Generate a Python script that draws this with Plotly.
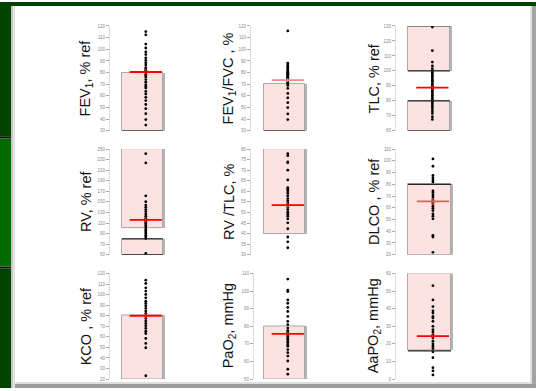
import plotly.graph_objects as go

W, H = 536, 391

# ---- data -------------------------------------------------------------
titles = [
    "FEV<sub>1</sub>, % ref", "FEV<sub>1</sub>/FVC , %", "TLC, % ref",
    "RV, % ref", "RV /TLC, %", "DLCO , % ref",
    "KCO , % ref", "PaO<sub>2</sub>, mmHg", "AaPO<sub>2</sub>, mmHg",
]

fev1 = [115.2, 112.4, 104.5, 101.1, 97.7, 95.5, 92.7, 90.4, 88.4, 86.5, 84.2, 83.0,
        81.9, 80.5, 78.6, 77.2, 76.3, 74.0, 71.8, 69.5, 68.0, 66.7, 63.9, 61.6, 58.8,
        56.0, 52.6, 49.0, 44.7, 39.7, 34.9]
fev1_fvc = [115.8, 88.0, 86.5, 85.2, 84.1, 83.0, 82.2, 81.0, 80.3, 79.4, 78.6, 78.0,
            77.1, 76.4, 75.8, 75.0, 74.1, 73.2, 72.0, 71.1, 70.2, 69.0, 66.4, 62.1,
            58.3, 54.2, 50.0, 44.5, 39.7]
tlc = [129.3, 113.6, 105.9, 103.3, 101.5, 100.2, 99.1, 98.0, 96.8, 95.9, 94.7, 93.6,
       92.8, 91.5, 90.6, 89.7, 88.4, 87.5, 86.3, 85.4, 84.1, 83.2, 82.0, 80.9, 79.7,
       78.6, 77.3, 76.1, 74.8, 73.2, 71.6, 69.4, 67.6]
rv = [241.3, 223.8, 161.5, 150.3, 144.0, 139.7, 135.4, 131.6, 127.3, 123.0, 119.0,
      115.0, 111.7, 108.6, 105.5, 102.3, 99.2, 96.0, 93.0, 90.0, 86.8, 83.6, 80.5, 52.5]
rv_tlc = [77.8, 76.9, 73.9, 73.5, 70.0, 65.4, 61.8, 61.0, 60.2, 59.1, 57.9, 56.6, 55.5,
          54.5, 53.5, 52.4, 51.3, 50.1, 49.2, 48.2, 47.0, 45.1, 42.3, 38.4, 36.1, 33.3]
dlco = [101.6, 95.4, 87.6, 85.6, 83.6, 82.0, 74.4, 73.0, 71.0, 69.3, 67.4, 66.0, 64.6,
        63.2, 61.2, 59.5, 57.6, 54.8, 52.8, 50.6, 36.5, 35.1, 22.0]
kco = [113.7, 110.5, 106.4, 103.3, 100.1, 97.0, 93.8, 91.6, 89.4, 86.9, 84.4, 82.1,
       79.9, 77.4, 74.9, 72.7, 70.5, 68.0, 65.4, 63.2, 58.5, 53.8, 49.7, 23.2]
pao2 = [106.8, 100.6, 99.7, 95.0, 93.1, 90.7, 88.4, 85.6, 82.8, 80.9, 79.0, 77.5, 76.8,
        76.2, 75.1, 74.4, 73.3, 72.5, 71.4, 70.6, 69.5, 68.7, 66.8, 65.0, 63.1, 60.3,
        55.6, 52.8]
aapo2 = [53.1, 45.0, 41.2, 38.8, 37.5, 35.6, 34.7, 32.8, 30.0, 28.1, 26.8, 25.3, 24.4,
         23.4, 21.5, 20.0, 18.7, 17.4, 15.5, 12.2, 6.5, 4.7, 2.4]
series = [fev1, fev1_fvc, tlc, rv, rv_tlc, dlco, kco, pao2, aapo2]

means = [80.5, 73.5, 88.9, 116.0, 53.5, 65.4, 80.0, 75.7, 24.4]
sems = [3.0, 1.5, 1.5, 6.0, 1.5, 3.0, 3.0, 1.5, 1.5]

# shaded ranges (base, top) for each panel
ranges = [
    [(30, 80)], [(30, 70)], [(60, 80), (100, 130)],
    [(50, 80), (100, 250)], [(40, 80)], [(20, 80)],
    [(20, 80)], [(50, 80)], [(16, 60)],
]
# range edges drawn with a dark rule
dark_edges = [[30], [30], [60, 80, 100, 130], [50, 80], [], [80], [], [], [16]]

y_ranges = [(30, 120), (30, 120), (60, 130), (50, 250), (30, 80),
            (20, 110), (20, 120), (50, 110), (0, 60)]
y_dticks = [10, 10, 10, 20, 5, 10, 10, 10, 10]

# ---- layout geometry (pixels) -----------------------------------------
row_px = [(24.3, 130.5), (149, 256), (275, 382)]
col_px = [  # axis line, bar left, bar right
    [(110, 122, 163), (251, 264, 305), (396, 408, 450)],
    [(110, 122, 163), (251, 264, 305), (396, 408, 451)],
    [(110, 122, 163), (254, 264, 305), (396, 408, 451)],
]
title_x = [86, 229, 374]
mean_colors = ["#ff0000", "#f28a8a", "#ff0000", "#ff0000", "#ff0000",
               "#f05a5a", "#ff0000", "#ff0000", "#ff0000"]
DOT_X = 0.08
SHADOW = 2.0

fig = go.Figure()
layout = {}
shapes = []
annotations = []


def py(v):
    return 1 - v / H


for i in range(9):
    r, c = divmod(i, 3)
    sfx = "" if i == 0 else str(i + 1)
    xa, ya = "x" + sfx, "y" + sfx
    ax_px, bl, br = col_px[r][c]
    unit = br - bl
    x_lo = -0.5 - (bl - ax_px) / unit
    x_hi = 0.5 + SHADOW / unit
    top, bot = row_px[r]

    layout["xaxis" + sfx] = dict(domain=[ax_px / W, (br + SHADOW) / W], range=[x_lo, x_hi],
                                 visible=False, anchor=ya, fixedrange=True)
    layout["yaxis" + sfx] = dict(domain=[py(bot), py(top)], range=list(y_ranges[i]),
                                 dtick=y_dticks[i], tick0=y_ranges[i][0],
                                 showline=True, linecolor="#dcdcdc", linewidth=1,
                                 ticks="outside", ticklen=3, tickcolor="#a8a8a8",
                                 tickwidth=1,
                                 tickfont=dict(size=4.5, color="#8a8a8a",
                                               family="Liberation Sans"),
                                 showgrid=False, zeroline=False, anchor=xa,
                                 fixedrange=True)

    for base, topv in ranges[i]:
        # soft shadow on the right side
        fig.add_trace(go.Bar(x=[0], y=[topv - base], base=[base], width=[1 + SHADOW / unit],
                             offset=-0.5, marker=dict(color="#b4b4b4", line=dict(width=0)),
                             xaxis=xa, yaxis=ya, showlegend=False, hoverinfo="skip"))
        fig.add_trace(go.Bar(x=[0], y=[topv - base], base=[base], width=[1], offset=-0.5,
                             marker=dict(color="#fde2e2",
                                         line=dict(color="#a9a9a9", width=1)),
                             xaxis=xa, yaxis=ya, showlegend=False, hoverinfo="skip"))
    for e in dark_edges[i]:
        shapes.append(dict(type="line", xref=xa, yref=ya, x0=-0.5, x1=0.5, y0=e, y1=e,
                           line=dict(color="#262626", width=1.2)))

    fig.add_trace(go.Scatter(x=[DOT_X] * len(series[i]), y=series[i], mode="markers",
                             marker=dict(color="black", size=2.8, symbol="circle"),
                             xaxis=xa, yaxis=ya, showlegend=False, hoverinfo="skip"))
    fig.add_trace(go.Scatter(x=[DOT_X], y=[means[i]], mode="markers",
                             marker=dict(symbol="line-ew", size=23,
                                         line=dict(color=mean_colors[i], width=1.8)),
                             error_y=dict(type="data", array=[sems[i]], color=mean_colors[i],
                                          thickness=1.2, width=0),
                             xaxis=xa, yaxis=ya, showlegend=False, hoverinfo="skip"))

    annotations.append(dict(text=titles[i], xref="paper", yref="paper",
                            x=title_x[c] / W, y=py((top + bot) / 2),
                            xanchor="center", yanchor="middle", textangle=-90,
                            showarrow=False,
                            font=dict(size=14.5, color="#111111", family="Liberation Sans")))

# ---- slide frame ------------------------------------------------------
DARK_GREEN = "#024302"
LIGHT_GREEN = "#016b01"


def rect(x0, y0, x1, y1, color):
    return dict(type="rect", xref="paper", yref="paper", x0=x0 / W, x1=x1 / W,
                y0=py(y1), y1=py(y0), fillcolor=color, line=dict(width=0), layer="below")


frame = [
    rect(0, 0, W, 4, DARK_GREEN),
    rect(0, 0, 11, 136, DARK_GREEN),
    rect(0, 136, 11, 138, "#121212"),
    rect(0, 138, 11, 268, LIGHT_GREEN),
    rect(0, 268, 11, 270, "#121212"),
    rect(0, 270, 11, H, DARK_GREEN),
    rect(11, 4, 13, H, "#c8c8c8"),
    rect(13, 4, 15, H, "#e4e4e4"),
    rect(530, 4, 532, 387, "#e2e2e2"),
    rect(532, 4, W, 387, "#a4a4a4"),
    rect(15, 385, 532, 387, "#dedede"),
    rect(15, 387, W, H, "#9c9c9c"),
]

fig.update_layout(
    width=W, height=H, margin=dict(l=0, r=0, t=0, b=0),
    paper_bgcolor="white", plot_bgcolor="rgba(0,0,0,0)",
    barmode="overlay", bargap=0,
    shapes=frame + shapes, annotations=annotations,
    showlegend=False,
    **layout,
)

fig.write_html("out.html", config={"displayModeBar": False})
